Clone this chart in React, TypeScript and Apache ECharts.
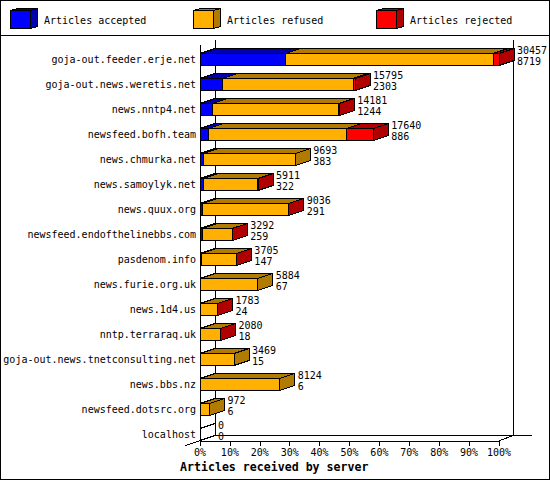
import React, { useEffect, useRef } from "react";
import * as echarts from "echarts";

const servers = [
  "goja-out.feeder.erje.net",
  "goja-out.news.weretis.net",
  "news.nntp4.net",
  "newsfeed.bofh.team",
  "news.chmurka.net",
  "news.samoylyk.net",
  "news.quux.org",
  "newsfeed.endofthelinebbs.com",
  "pasdenom.info",
  "news.furie.org.uk",
  "news.1d4.us",
  "nntp.terraraq.uk",
  "goja-out.news.tnetconsulting.net",
  "news.bbs.nz",
  "newsfeed.dotsrc.org",
  "localhost",
];
const totals = [30457, 15795, 14181, 17640, 9693, 5911, 9036, 3292, 3705, 5884, 1783, 2080, 3469, 8124, 972, 0];
const accepted = [8719, 2303, 1244, 886, 383, 322, 291, 259, 147, 67, 24, 18, 15, 6, 6, 0];
const refused = [21128, 13292, 12837, 14054, 9310, 5559, 8705, 3013, 3538, 5817, 1749, 2047, 3454, 8118, 966, 0];
const rejected = [610, 200, 100, 2700, 0, 30, 40, 20, 20, 0, 10, 15, 0, 0, 0, 0];
const legendNames = ["Articles accepted", "Articles refused", "Articles rejected"];
const frontColors = ["#0000ff", "#ffb000", "#ff0000"];
const darkColors = ["#0000b0", "#b07b00", "#b00000"];
const axisTitle = "Articles received by server";
const xTicks = { min: 0, max: 100, interval: 10 };

const MONO = '"DejaVu Sans Mono", "Liberation Mono", monospace';
const DX = 15;
const DY = 5;
const BAR_H = 12;
const maxTotal = Math.max(...totals);
const pct = (v: number) => (v / maxTotal) * 100;

function segmentSeries(k: number, values: number[]) {
  const data = values.map((v, i) => {
    const before = (k > 0 ? accepted[i] : 0) + (k > 1 ? refused[i] : 0);
    const after = (k < 1 ? refused[i] : 0) + (k < 2 ? rejected[i] : 0);
    return [pct(before), pct(before + v), i, v > 0 && after === 0 ? 1 : 0, v];
  });
  return {
    type: "custom",
    name: legendNames[k],
    z: 3,
    clip: false,
    encode: { x: [0, 1], y: 2 },
    data,
    renderItem: (_p: any, api: any) => {
      if (api.value(4) <= 0) return { type: "group", children: [] };
      const a = api.coord([api.value(0), api.value(2)]);
      const b = api.coord([api.value(1), api.value(2)]);
      const x0 = a[0];
      const x1 = b[0];
      const y = a[1];
      const stroke = { stroke: "#000", lineWidth: 1 };
      const children: any[] = [
        {
          type: "polygon",
          shape: { points: [[x0, y], [x0 + DX, y - DY], [x1 + DX, y - DY], [x1, y]] },
          style: { fill: darkColors[k], ...stroke },
        },
        {
          type: "rect",
          shape: { x: x0, y, width: x1 - x0, height: BAR_H },
          style: { fill: frontColors[k], ...stroke },
        },
      ];
      if (api.value(3)) {
        children.push({
          type: "polygon",
          shape: {
            points: [[x1, y], [x1 + DX, y - DY], [x1 + DX, y + BAR_H - DY], [x1, y + BAR_H]],
          },
          style: { fill: darkColors[k], ...stroke },
        });
      }
      return { type: "group", children };
    },
  };
}

const labelSeries = {
  type: "custom",
  name: "Labels",
  z: 4,
  clip: false,
  encode: { x: 0, y: 1 },
  data: totals.map((t, i) => [pct(t), i, t, accepted[i]]),
  renderItem: (_p: any, api: any) => {
    const c = api.coord([api.value(0), api.value(1)]);
    const font = `10px ${MONO}`;
    const children: any[] = [
      {
        type: "text",
        style: { x: c[0] + 18, y: c[1] - 3, text: String(api.value(2)), font, fill: "#000", verticalAlign: "middle" },
      },
      {
        type: "text",
        style: { x: c[0] + 18, y: c[1] + 8, text: String(api.value(3)), font, fill: "#000", verticalAlign: "middle" },
      },
    ];
    if (api.value(2) === 0) {
      children.unshift({
        type: "polyline",
        shape: {
          points: [
            [c[0], c[1]],
            [c[0] + DX, c[1] - DY],
            [c[0] + DX, c[1] + BAR_H - DY],
            [c[0], c[1] + BAR_H],
          ],
        },
        style: { fill: "none", stroke: "#000", lineWidth: 1 },
      });
    }
    return { type: "group", children };
  },
};

function legendCube(k: number) {
  const x = 10.5 + 183 * k;
  const y = 10.5;
  const w = 20;
  const h = 18;
  const dx = 7;
  const dy = 2;
  const stroke = { stroke: "#000", lineWidth: 1 };
  return [
    { type: "polygon", shape: { points: [[x, y], [x + dx, y - dy], [x + w + dx, y - dy], [x + w, y]] }, style: { fill: darkColors[k], ...stroke } },
    { type: "polygon", shape: { points: [[x + w, y], [x + w + dx, y - dy], [x + w + dx, y + h - dy], [x + w, y + h]] }, style: { fill: darkColors[k], ...stroke } },
    { type: "rect", shape: { x, y, width: w, height: h }, style: { fill: frontColors[k], ...stroke } },
    {
      type: "text",
      style: { x: x + 33.5, y: 20, text: legendNames[k], font: `10px ${MONO}`, fill: "#000", verticalAlign: "middle" },
    },
  ];
}

const frameLine = (x1: number, y1: number, x2: number, y2: number) => ({
  type: "line",
  z: 1,
  shape: { x1, y1, x2, y2 },
  style: { stroke: "#000", lineWidth: 1 },
});

export default function App() {
  const ref = useRef<HTMLDivElement>(null);
  useEffect(() => {
    document.body.style.margin = "0";
    document.body.style.background = "#fff";
    const chart = echarts.init(ref.current!, undefined, { renderer: "svg" });
    chart.setOption({
      animation: false,
      backgroundColor: "#fff",
      textStyle: { fontFamily: MONO },
      title: {
        text: axisTitle,
        left: 180,
        top: 460,
        padding: 0,
        textStyle: { fontFamily: MONO, fontSize: 11.6, fontWeight: "bold", color: "#000", lineHeight: 13 },
      },
      grid: { left: 200, top: 41, width: 299, height: 400, containLabel: false },
      xAxis: {
        type: "value",
        min: xTicks.min,
        max: xTicks.max,
        interval: xTicks.interval,
        splitLine: { show: false },
        axisLine: { show: true, lineStyle: { color: "#000", width: 1 } },
        axisTick: { show: true, length: 5, lineStyle: { color: "#000", width: 1 } },
        axisLabel: {
          show: true,
          formatter: "{value}%",
          color: "#000",
          fontFamily: MONO,
          fontSize: 10,
          margin: 6,
          hideOverlap: false,
        },
      },
      yAxis: {
        type: "category",
        inverse: true,
        data: servers,
        axisLine: { show: false },
        axisTick: { show: false },
        splitLine: { show: false },
        axisLabel: {
          interval: 0,
          color: "#000",
          fontFamily: MONO,
          fontSize: 10,
          margin: 4,
          verticalAlign: "top",
          lineHeight: 12,
        },
      },
      graphic: [
        {
          type: "rect",
          z: 0,
          shape: { x: 0.5, y: 0.5, width: 549, height: 479 },
          style: { fill: "#fff", stroke: "#000", lineWidth: 1 },
        },
        frameLine(0, 35.5, 550, 35.5),
        frameLine(215.5, 40, 215.5, 436),
        frameLine(513.5, 40, 513.5, 436),
        frameLine(215.5, 435.5, 532, 435.5),
        frameLine(200.5, 45, 200.5, 446),
        frameLine(185.5, 445.5, 215.5, 435.5),
        frameLine(499.5, 440.5, 513.5, 435.5),
        ...[0, 1, 2].flatMap((k) => legendCube(k).map((e) => ({ ...e, z: 5 }))),
      ],
      series: [
        segmentSeries(0, accepted),
        segmentSeries(1, refused),
        segmentSeries(2, rejected),
        labelSeries,
      ],
    });
    const svg = ref.current!.querySelector("svg");
    if (svg) (svg as SVGElement).style.shapeRendering = "crispEdges";
    return () => chart.dispose();
  }, []);
  return <div ref={ref} style={{ width: 550, height: 480 }} />;
}
